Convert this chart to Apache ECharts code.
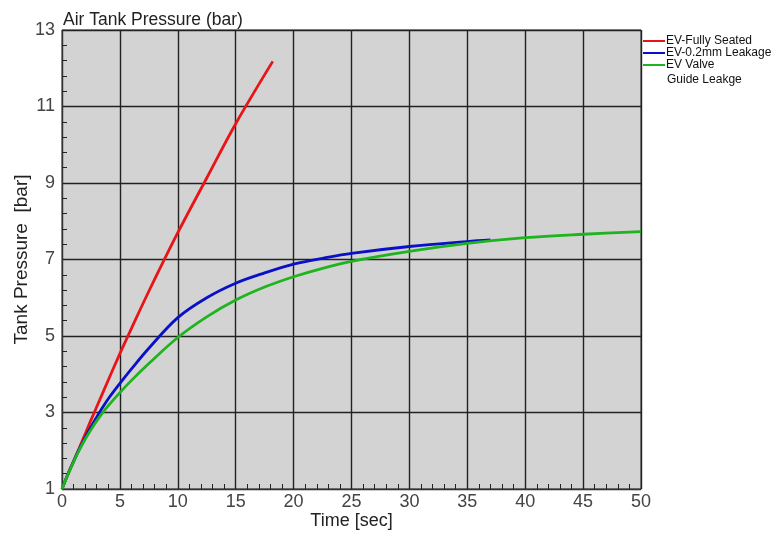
<!DOCTYPE html>
<html>
<head>
<meta charset="utf-8">
<script src="https://cdn.jsdelivr.net/npm/echarts@6/dist/echarts.min.js"></script>
<style>
html,body{margin:0;padding:0;background:#fff;}
#chart{width:775px;height:533px;}
</style>
</head>
<body>
<div id="chart"></div>
<script>
var seriesNames = ['EV-Fully Seated', 'EV-0.2mm Leakage', 'EV Valve'];
var legendExtraLine = 'Guide Leakge';

var timeRed = [0, 0.5, 1, 1.5, 2, 2.5, 3, 4, 5, 6, 7.5, 10, 12.5, 15, 18.2];
var pressRed = [1, 1.38, 1.73, 2.08, 2.44, 2.8, 3.15, 3.85, 4.54, 5.2, 6.17, 7.7, 9.13, 10.55, 12.18];

var timeBlue = [0, 0.5, 1, 1.5, 2, 2.5, 3, 3.5, 4, 5, 6, 7.5, 10, 12.5, 15, 17.5, 20, 22.5, 25, 30, 35, 37];
var pressBlue = [1, 1.38, 1.72, 2.04, 2.34, 2.62, 2.88, 3.13, 3.36, 3.76, 4.14, 4.68, 5.48, 6.0, 6.38, 6.65, 6.88, 7.03, 7.16, 7.34, 7.47, 7.51];

var timeGreen = [0, 0.5, 1, 1.5, 2, 2.5, 3, 3.5, 4, 5, 6, 7.5, 10, 12.5, 15, 17.5, 20, 22.5, 25, 30, 35, 40, 45, 50];
var pressGreen = [1, 1.37, 1.71, 2.02, 2.3, 2.55, 2.78, 2.99, 3.18, 3.52, 3.84, 4.28, 4.96, 5.5, 5.94, 6.28, 6.55, 6.77, 6.95, 7.21, 7.42, 7.57, 7.66, 7.73];

var xTicks = [0, 5, 10, 15, 20, 25, 30, 35, 40, 45, 50];
var yTicks = [1, 3, 5, 7, 9, 11, 13];

var colors = ['#e81418', '#0a10c8', '#1eb41e'];

function pairs(xs, ys) { return xs.map(function (x, i) { return [x, ys[i]]; }); }

var font = '"Liberation Sans", Arial, sans-serif';
var chart = echarts.init(document.getElementById('chart'));

function lineSeries(i, xs, ys) {
  return {
    name: seriesNames[i], type: 'line', smooth: 0.35,
    showSymbol: false, data: pairs(xs, ys), lineStyle: { width: 2.8 }
  };
}

chart.setOption({
  animation: false,
  color: colors,
  textStyle: { fontFamily: font },
  title: {
    text: 'Air Tank Pressure (bar)',
    left: 58, top: 6,
    textStyle: { fontSize: 17.5, fontWeight: 'normal', color: '#222', fontFamily: font }
  },
  legend: {
    orient: 'vertical',
    left: 638, top: 30,
    itemWidth: 22, itemHeight: 2, itemGap: 0,
    icon: 'rect',
    data: seriesNames,
    textStyle: { fontSize: 12, color: '#111', fontFamily: font, height: 12, lineHeight: 12, padding: [0, 0, 0, -4] }
  },
  graphic: [{
    type: 'text', left: 667, top: 74,
    style: { text: legendExtraLine, fontSize: 12, fill: '#111', fontFamily: font }
  }],
  grid: {
    left: 62, right: 134, top: 30, bottom: 44,
    outerBoundsMode: 'none', containLabel: false,
    show: true, backgroundColor: '#d3d3d3', borderColor: '#333', borderWidth: 1
  },
  xAxis: {
    type: 'value', min: xTicks[0], max: xTicks[xTicks.length - 1], interval: 5,
    name: 'Time [sec]', nameLocation: 'middle', nameGap: 23, nameMoveOverlap: false,
    nameTextStyle: { fontSize: 18, color: '#222', fontFamily: font },
    axisLine: { show: true, lineStyle: { color: '#333', width: 1 } },
    axisTick: { show: false, inside: true },
    minorTick: { show: true, splitNumber: 5, length: 5, lineStyle: { color: '#222', width: 1 } },
    splitLine: { show: true, lineStyle: { color: '#222', width: 1.4 } },
    axisLabel: { fontSize: 18, color: '#444', margin: 4, fontFamily: font }
  },
  yAxis: {
    type: 'value', min: yTicks[0], max: yTicks[yTicks.length - 1], interval: 2,
    name: 'Tank Pressure  [bar]', nameLocation: 'middle', nameGap: 31, nameMoveOverlap: false,
    nameTextStyle: { fontSize: 19, color: '#222', fontFamily: font },
    axisLine: { show: true, lineStyle: { color: '#333', width: 1 } },
    axisTick: { show: false, inside: true },
    minorTick: { show: true, splitNumber: 5, length: 5, lineStyle: { color: '#222', width: 1 } },
    splitLine: { show: true, lineStyle: { color: '#222', width: 1.4 } },
    axisLabel: { fontSize: 18, color: '#444', margin: 7, fontFamily: font }
  },
  series: [
    lineSeries(0, timeRed, pressRed),
    lineSeries(1, timeBlue, pressBlue),
    lineSeries(2, timeGreen, pressGreen)
  ]
});
</script>
</body>
</html>
